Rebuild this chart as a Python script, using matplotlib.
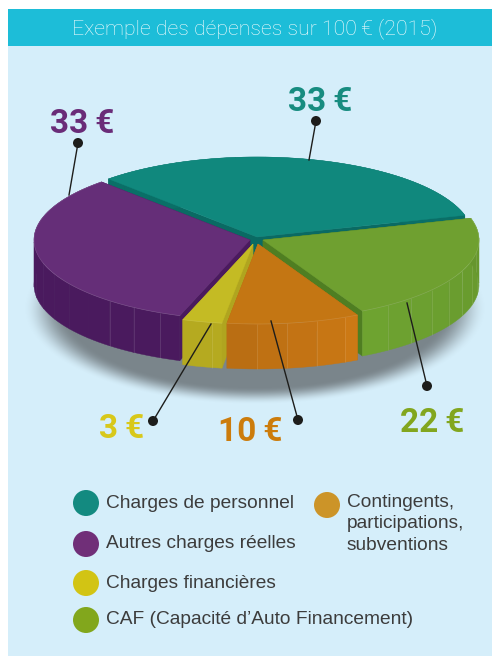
import numpy as np
import matplotlib
matplotlib.use("Agg")
import matplotlib.pyplot as plt
from matplotlib.patches import Polygon, Rectangle, Circle
from matplotlib.colors import to_rgb

TITLE = "Exemple des dépenses sur 100\u2009€ (2015)"
categories = ["Charges de personnel", "Autres charges réelles", "Charges financières",
              "Contingents,\nparticipations,\nsubventions", "CAF (Capacité d\u2019Auto Financement)"]
values = [33, 33, 3, 10, 22]
value_labels = ["33\u2009€", "33\u2009€", "3\u2009€", "10\u2009€", "22\u2009€"]

top_colors = ["#10887d", "#652e78", "#c4bb24", "#c47613", "#6fa030"]
rim_colors = ["#0a6f67", "#4a1a5e", "#b5aa20", "#c67514", "#6b9e2f"]
face_colors = ["#0a6a63", "#4a1a5e", "#b0a51f", "#b56c12", "#4f7e22"]
legend_colors = ["#138a80", "#702f78", "#d2c414", "#cc9428", "#82a71c"]
label_colors = ["#178c80", "#6a2c78", "#d8c81a", "#cc7c0c", "#82a61e"]

START = 15.8
CX, CY, A, B, DEPTH = 257, 240, 216, 80, 45
offsets = [(0, -3), (-7, 0), (-4, 4), (1, 4), (6, 0)]
label_pos = [(320, 102), (82, 124), (122, 429), (250, 432), (432, 423)]
leader = [((316, 121), (309, 160)), ((78, 143), (69, 195)), ((153, 421), (211, 324)),
          ((298, 420), (271, 321)), ((427, 386), (407, 303))]
legend_pos = [(86, 503), (86, 544), (86, 583), (327, 505), (86, 620)]
draw_order = [0, 1, 4, 2, 3]
line_min_angle = [999, 225, 250, 260, 300]

fig = plt.figure(figsize=(4.92, 6.56), dpi=100, facecolor="white")
ax = fig.add_axes([0, 0, 1, 1])
ax.set_xlim(0, 492)
ax.set_ylim(656, 0)
ax.axis("off")

ax.add_patch(Rectangle((8, 9), 484, 646.5, fc="#d5eefa", ec="none", zorder=0))
ax.add_patch(Rectangle((8, 9), 484, 36.7, fc="#1dbdd8", ec="none", zorder=1))
ax.text(254.5, 29, TITLE, color="#f4fcfd", fontsize=15.3, family="Roboto", fontweight="light",
        ha="center", va="center", zorder=2)

# soft shadow
xx, yy = np.meshgrid(np.linspace(0, 492, 492), np.linspace(200, 420, 220))
r = np.sqrt(((xx - 255) / 232) ** 2 + ((yy - 308) / 97) ** 2)
t = np.clip((1.0 - r) / 0.18, 0, 1)
alpha = t * t * (3 - 2 * t)
rgba = np.zeros(alpha.shape + (4,))
rgba[..., :3] = to_rgb("#7a858b")
rgba[..., 3] = alpha
ax.imshow(rgba, extent=(0, 492, 420, 200), aspect="auto", zorder=3, interpolation="bilinear")
ax.set_xlim(0, 492)
ax.set_ylim(656, 0)


def pt(cx, cy, deg, dz=0):
    a = np.deg2rad(deg)
    return cx + A * np.cos(a), cy - B * np.sin(a) + dz


def shade(col, f):
    return tuple(np.clip(np.array(to_rgb(col)) * f, 0, 1))


angles = np.cumsum([0] + values) * 360.0 / sum(values) + START
z = 10
for i in draw_order:
    t0, t1 = angles[i], angles[i + 1]
    dx, dy = offsets[i]
    cx, cy = CX + dx, CY + dy
    for th in (t0, t1):
        p = pt(cx, cy, th)
        q = pt(cx, cy, th, DEPTH)
        ax.add_patch(Polygon([(cx, cy), p, q, (cx, cy + DEPTH)], fc=face_colors[i], ec=face_colors[i],
                             lw=0.3, zorder=z))
        z += 1
    edges = np.append(np.arange(t0, t1, 8.0), t1)
    n = len(edges) - 1
    for k in range(n):
        a0, a1 = edges[k], edges[k + 1]
        arc = np.linspace(a0, a1, 5)
        up = [pt(cx, cy, a) for a in arc]
        dn = [pt(cx, cy, a, DEPTH) for a in arc[::-1]]
        frac = k / max(n - 1, 1)
        f = 1.0
        if i == 3:
            f = 0.94 + 0.09 * frac
        elif i == 4:
            f = 1.03 - 0.08 * frac
        c = shade(rim_colors[i], f)
        ax.add_patch(Polygon(up + dn, fc=c, ec=c, lw=0.3, zorder=z))
        z += 1
        if a0 > line_min_angle[i] and k > 0:
            ax.plot([up[0][0], up[0][0]], [up[0][1], up[0][1] + DEPTH], color="white", alpha=0.12,
                    lw=0.6, zorder=z, solid_capstyle="butt")
            z += 1
    arc = np.linspace(t0, t1, 90)
    pts = [(cx, cy)] + [pt(cx, cy, a) for a in arc]
    ax.add_patch(Polygon(pts, fc=top_colors[i], ec=top_colors[i], lw=0.3, zorder=z))
    z += 1
    if i != 0:
        ax.plot(*zip(*pts[1:]), color="white", alpha=0.15, lw=0.5, zorder=z)
        z += 1

z += 100
for (d, e), lab, pos, col in zip(leader, value_labels, label_pos, label_colors):
    ax.plot([d[0], e[0]], [d[1], e[1]], color="#1d1d1b", lw=1.0, zorder=z)
    ax.add_patch(Circle(d, 5, fc="#1d1d1b", ec="none", zorder=z))
    ax.text(pos[0], pos[1], lab, color=col, fontsize=24, fontweight="bold", family="Roboto",
            ha="center", va="center", zorder=z)

for (x, y), col, cat in zip(legend_pos, legend_colors, categories):
    ax.add_patch(Circle((x, y), 13, fc=col, ec="none", zorder=z))
    multi = "\n" in cat
    ax.text(x + 20, y - 11 if multi else y, cat, color="#3c3c3c", fontsize=13.8,
            family="Liberation Sans", ha="left", va="top" if multi else "center",
            linespacing=1.33, zorder=z)

fig.savefig("out.png", dpi=100, facecolor="white")
